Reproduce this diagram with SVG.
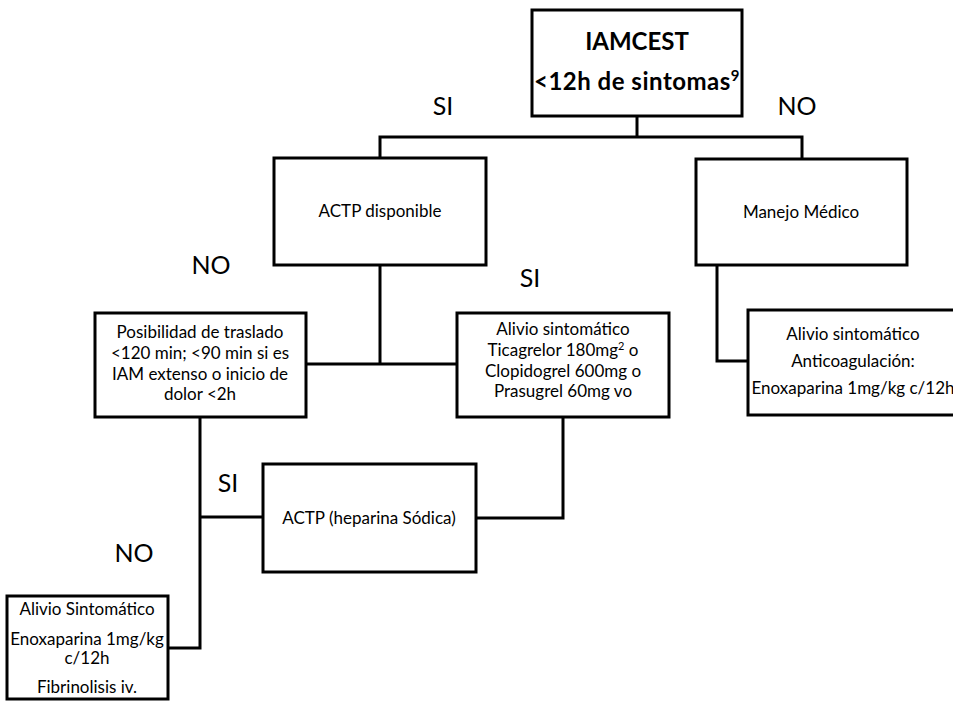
<svg xmlns="http://www.w3.org/2000/svg" width="953" height="702" viewBox="0 0 953 702">
<style>
.box{fill:#fff;stroke:#000;stroke-width:3}
.ln{fill:none;stroke:#000;stroke-width:3}
text{font-family:Lato,"Liberation Sans",sans-serif;fill:#000;text-anchor:middle}
.t{font-size:17px}
.lab{font-size:25px}
.hd{font-size:24px;font-weight:bold}
</style>
<rect width="953" height="702" fill="#fff"/>
<g id="connectors">
<polyline class="ln" points="637,116 637,137"/>
<polyline class="ln" points="380,158 380,137 802,137 802,158"/>
<polyline class="ln" points="380,265 380,364"/>
<polyline class="ln" points="306,364 457,364"/>
<polyline class="ln" points="717,265 717,361 748,361"/>
<polyline class="ln" points="200,417 200,648 168,648"/>
<polyline class="ln" points="200,517 263,517"/>
<polyline class="ln" points="563,417 563,518 476,518"/>
</g>
<g id="labels">
<text class="lab" x="443" y="115">SI</text>
<text class="lab" x="797" y="115">NO</text>
<text class="lab" x="211" y="274">NO</text>
<text class="lab" x="530" y="287">SI</text>
<text class="lab" x="228" y="492">SI</text>
<text class="lab" x="134" y="562">NO</text>
</g>
<g id="n-iamcest">
<rect class="box" x="532" y="10" width="210" height="106"/>
<text class="hd" x="637" y="50">IAMCEST</text>
<text class="hd" x="637" y="90" letter-spacing="0.5">&lt;12h de sintomas<tspan font-size="15" dy="-9">9</tspan></text>
</g>
<g id="n-actp-disp">
<rect class="box" x="274" y="158" width="212" height="107"/>
<text class="t" x="380" y="217">ACTP disponible</text>
</g>
<g id="n-manejo">
<rect class="box" x="696" y="159" width="211" height="106"/>
<text class="t" x="801" y="218">Manejo Médico</text>
</g>
<g id="n-traslado">
<rect class="box" x="95" y="313" width="211" height="104"/>
<text class="t" x="200" y="338">Posibilidad de traslado</text>
<text class="t" x="200" y="359">&lt;120 min; &lt;90 min si es</text>
<text class="t" x="200" y="380">IAM extenso o inicio de</text>
<text class="t" x="200" y="400">dolor &lt;2h</text>
</g>
<g id="n-alivio-mid">
<rect class="box" x="457" y="313" width="212" height="104"/>
<text class="t" x="563" y="335">Alivio sintomático</text>
<text class="t" x="563" y="356">Ticagrelor 180mg<tspan font-size="11" dy="-6">2</tspan><tspan dy="6"> o</tspan></text>
<text class="t" x="563" y="377">Clopidogrel 600mg o</text>
<text class="t" x="563" y="397">Prasugrel 60mg vo</text>
</g>
<g id="n-alivio-right">
<rect class="box" x="748" y="310" width="230" height="105"/>
<text class="t" x="853" y="340">Alivio sintomático</text>
<text class="t" x="853" y="367">Anticoagulación:</text>
<text class="t" x="853" y="394">Enoxaparina 1mg/kg c/12h</text>
</g>
<g id="n-actp-hep">
<rect class="box" x="263" y="464" width="213" height="108"/>
<text class="t" x="369" y="524">ACTP (heparina Sódica)</text>
</g>
<g id="n-fibrinolisis">
<rect class="box" x="7" y="596" width="161" height="103"/>
<text class="t" x="87" y="615">Alivio Sintomático</text>
<text class="t" x="87" y="645">Enoxaparina 1mg/kg</text>
<text class="t" x="87" y="664">c/12h</text>
<text class="t" x="87" y="693">Fibrinolisis iv.</text>
</g>
</svg>
